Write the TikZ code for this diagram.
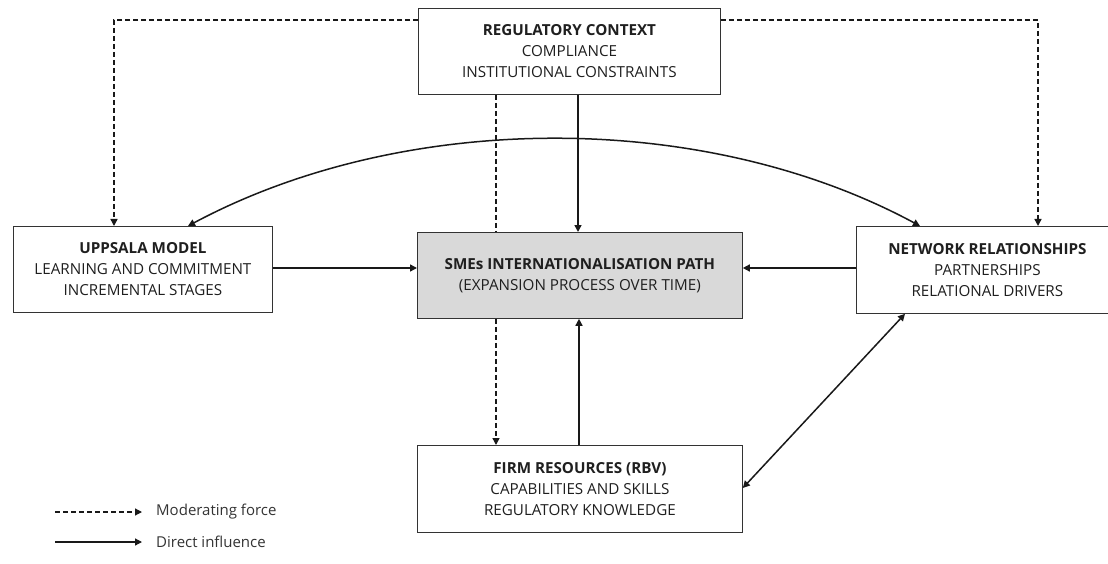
\documentclass[tikz,border=0pt]{standalone}
\usepackage{fontspec}
\setmainfont{Open Sans}
\usetikzlibrary{arrows.meta}
\begin{document}
\begin{tikzpicture}[x=1pt,y=-1pt,
  box/.style={draw=black!80, line width=0.8pt, fill=white, align=center,
    inner sep=0pt, anchor=north west, text=black!88,
    font=\fontsize{15.2}{21}\selectfont},
  tip/.style={-{Triangle[length=7pt,width=7pt]}},
  tips/.style={{Triangle[length=7pt,width=7pt]}-{Triangle[length=7pt,width=7pt]}},
  solidline/.style={line width=1.5pt, black!90},
  dashline/.style={line width=1.4pt, black!90, dash pattern=on 5pt off 3pt},
  legendtext/.style={anchor=west, inner sep=0pt, text=black!80,
    font=\fontsize{15}{18}\selectfont}]
\useasboundingbox (0,0) rectangle (1108,564);

% boxes
\node[box, minimum width=302pt, minimum height=86pt] (reg) at (418,8)
  {{\bfseries REGULATORY CONTEXT}\\COMPLIANCE\\INSTITUTIONAL CONSTRAINTS};
\node[box, minimum width=259pt, minimum height=86pt] (upp) at (13,226)
  {{\bfseries UPPSALA MODEL}\\LEARNING AND COMMITMENT\\INCREMENTAL STAGES};
\node[box, minimum width=325pt, minimum height=86pt, fill=black!15] (sme) at (417,232)
  {{\bfseries SMEs INTERNATIONALISATION PATH}\\(EXPANSION PROCESS OVER TIME)};
\node[box, minimum width=256pt, minimum height=87pt] (net) at (856,226)
  {\hspace*{6pt}{\bfseries NETWORK RELATIONSHIPS}\\\hspace*{6pt}PARTNERSHIPS\\\hspace*{6pt}RELATIONAL DRIVERS};
\node[box, minimum width=325pt, minimum height=87pt] (firm) at (417,445)
  {{\bfseries FIRM RESOURCES (RBV)}\\CAPABILITIES AND SKILLS\\REGULATORY KNOWLEDGE};

% moderating (dashed) links from the regulatory context
\coordinate (rl) at (reg.west |- 0,20);
\coordinate (rr) at (reg.east |- 0,20);
\draw[dashline, tip] (rl) -| (114,0 |- upp.north);
\draw[dashline, tip] (rr) -| (1038,0 |- net.north);
\draw[dashline] (496,0 |- reg.south) -- (496,0 |- sme.north);
\draw[dashline, tip] (496,0 |- sme.south) -- (496,0 |- firm.north);

% direct influences
\draw[solidline, tip] (578,0 |- reg.south) -- (578,0 |- sme.north);
\draw[solidline, tip] (579,0 |- firm.north) -- (579,0 |- sme.south);
\draw[solidline, tip] (upp.east |- 0,268) -- (sme.west |- 0,268);
\draw[solidline, tip] (net.west |- 0,268) -- (sme.east |- 0,268);
\draw[solidline, tips] (firm.east |- 0,488) -- (905,0 |- net.south);
\draw[solidline, tips] (188,0 |- upp.north) .. controls (405,110) and (705,110) .. (920,0 |- net.north);

% legend
\coordinate (m0) at (55,512);
\coordinate (m1) at (142,512);
\coordinate (d0) at (55,542);
\coordinate (d1) at (142,542);
\draw[dashline, line width=1.2pt, tip] (m0) -- (m1);
\draw[solidline, line width=1.2pt, tip] (d0) -- (d1);
\node[legendtext] (ml) at (156,512) {Moderating force};
\node[legendtext] (dl) at (156,542) {Direct influence};
\end{tikzpicture}
\end{document}
